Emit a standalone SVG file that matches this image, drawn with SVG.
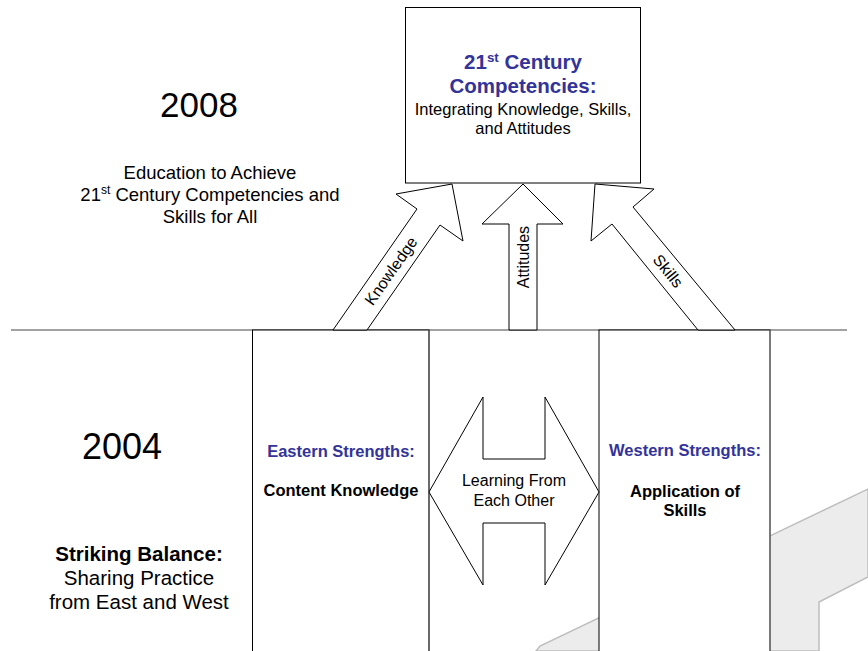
<svg xmlns="http://www.w3.org/2000/svg" width="868" height="651" viewBox="0 0 868 651">
<style>
text{font-family:"Liberation Sans",Arial,sans-serif;fill:#000;text-anchor:middle}
.shape{fill:#fff;stroke:#000;stroke-width:1}
.blue{fill:#333399;font-weight:bold}
.b{font-weight:bold}
.sup{font-size:65%}
</style>
<rect width="868" height="651" fill="#fff"/>
<g id="watermark">
<polygon points="536,651 540,646 868,489 868,577 819,602 819,651" fill="#ececec" stroke="#bdbdbd" stroke-width="1.5"/>
</g>
<g id="connectors">
<line x1="11" y1="330" x2="847" y2="330" stroke="#444" stroke-width="1"/>
</g>
<g id="columns">
<rect x="252.5" y="330" width="176.5" height="330" fill="#fff" stroke="#000"/>
<line x1="429" y1="330" x2="429" y2="651" stroke="#555"/>
<rect x="599" y="330" width="171" height="330" fill="#fff" stroke="#000"/>
<line x1="770" y1="330" x2="770" y2="651" stroke="#777"/>
</g>
<g id="box-21st">
<rect x="405.5" y="7.5" width="235" height="175.5" class="shape"/>
<text x="523" y="69" font-size="20.5" class="blue">21<tspan class="sup" baseline-shift="super">st</tspan> Century</text>
<text x="523" y="93" font-size="20.5" class="blue">Competencies:</text>
<text x="523" y="115" font-size="16.5">Integrating Knowledge, Skills,</text>
<text x="523" y="134" font-size="16.5">and Attitudes</text>
</g>
<g id="arrow-knowledge">
<polygon class="shape" points="333,330 367,330 440,225 463,241 452,184 396,194 417,209"/>
<text x="391" y="271" font-size="16" dominant-baseline="central" transform="rotate(-55 391 271)">Knowledge</text>
</g>
<g id="arrow-attitudes">
<polygon class="shape" points="509,330 537,330 537,224 563,224 523,184 482,224 509,224"/>
<text x="523" y="257" font-size="16" dominant-baseline="central" transform="rotate(-90 523 257)">Attitudes</text>
</g>
<g id="arrow-skills">
<polygon class="shape" points="735,330 698,330 612,224 591,241 595,184 654,189 633,207"/>
<text x="668" y="271" font-size="16" dominant-baseline="central" transform="rotate(51 668 271)">Skills</text>
</g>
<g id="label-2008">
<text x="199" y="117" font-size="35">2008</text>
<text x="210" y="179" font-size="18.5">Education to Achieve</text>
<text x="210" y="201" font-size="18.5">21<tspan class="sup" baseline-shift="super">st</tspan> Century Competencies and</text>
<text x="210" y="223" font-size="18.5">Skills for All</text>
</g>
<g id="label-2004">
<text x="122" y="459" font-size="36">2004</text>
<text x="139" y="561" font-size="20.5" class="b">Striking Balance:</text>
<text x="139" y="585" font-size="20.5">Sharing Practice</text>
<text x="139" y="609" font-size="20.5">from East and West</text>
</g>
<g id="eastern">
<text x="341" y="457" font-size="16.5" class="blue">Eastern Strengths:</text>
<text x="341" y="496" font-size="16.5" class="b">Content Knowledge</text>
</g>
<g id="learning-arrow">
<polygon class="shape" points="429,492 483,397 483,459 545,459 545,397 599,492 545,585 545,523 483,523 483,585"/>
<text x="514" y="486" font-size="16">Learning From</text>
<text x="514" y="506" font-size="16">Each Other</text>
</g>
<g id="western">
<text x="685" y="456" font-size="16.5" class="blue">Western Strengths:</text>
<text x="685" y="497" font-size="16.5" class="b">Application of</text>
<text x="685" y="516" font-size="16.5" class="b">Skills</text>
</g>
</svg>
